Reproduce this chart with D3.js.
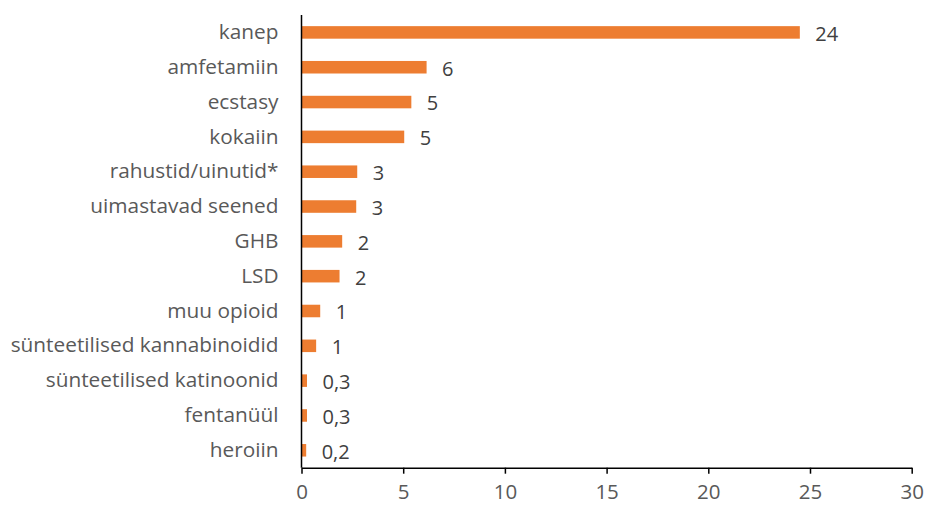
<!DOCTYPE html>
<html>
<head>
<meta charset="utf-8">
<script src="https://cdn.jsdelivr.net/npm/d3@7"></script>
<style>
  html, body { margin: 0; padding: 0; background: #fff; }
  svg { display: block; }
</style>
</head>
<body>
<svg id="chart" width="927" height="506"></svg>
<script>
const categories = ["kanep", "amfetamiin", "ecstasy", "kokaiin", "rahustid/uinutid*", "uimastavad seened", "GHB", "LSD", "muu opioid", "sünteetilised kannabinoidid", "sünteetilised katinoonid", "fentanüül", "heroiin"];
const values = [24.5, 6.15, 5.4, 5.05, 2.74, 2.69, 2.0, 1.87, 0.92, 0.72, 0.27, 0.27, 0.23];
const valueLabels = ["24", "6", "5", "5", "3", "3", "2", "2", "1", "1", "0,3", "0,3", "0,2"];
const xTicks = [0, 5, 10, 15, 20, 25, 30];

const data = categories.map((c, i) => ({ cat: c, val: values[i], label: valueLabels[i] }));

const svg = d3.select("#chart");
const margin = { left: 301.5, right: 15.3, top: 15, bottom: 38.3 };
const W = 927, H = 506;

const x = d3.scaleLinear().domain([0, 30]).range([margin.left, W - margin.right]);
const y = d3.scaleBand().domain(categories).range([margin.top, H - margin.bottom]).paddingInner(0.64).paddingOuter(0.32);

const font = "'Open Sans', 'Segoe UI', sans-serif";

// bars
svg.append("g").selectAll("rect").data(data).join("rect")
  .attr("x", x(0))
  .attr("y", d => y(d.cat))
  .attr("width", d => x(d.val) - x(0))
  .attr("height", y.bandwidth())
  .attr("fill", "#ED7D31");

// value labels
svg.append("g").selectAll("text").data(data).join("text")
  .attr("x", d => x(d.val) + 15.5)
  .attr("y", d => y(d.cat) + y.bandwidth() / 2)
  .attr("dy", "0.42em")
  .attr("font-family", font)
  .attr("font-size", 20)
  .attr("fill", "#404040")
  .text(d => d.label);

// x axis
const xAxis = svg.append("g")
  .attr("transform", `translate(0,${H - margin.bottom})`)
  .call(d3.axisBottom(x).tickValues(xTicks).tickSize(6).tickPadding(11).tickSizeOuter(0));
xAxis.select(".domain").attr("stroke", "#000").attr("stroke-width", 1.5);
xAxis.selectAll(".tick line").attr("stroke", "#000").attr("stroke-width", 1.5);
xAxis.selectAll(".tick text")
  .attr("font-family", font).attr("font-size", 20.5).attr("fill", "#595959");

// y axis
const yAxis = svg.append("g")
  .attr("transform", `translate(${margin.left},0)`)
  .call(d3.axisLeft(y).tickSize(0).tickPadding(23));
yAxis.select(".domain").remove();
yAxis.selectAll(".tick text")
  .attr("font-family", font).attr("font-size", 20.8).attr("fill", "#595959");
svg.append("line")
  .attr("x1", margin.left).attr("x2", margin.left)
  .attr("y1", margin.top).attr("y2", H - margin.bottom)
  .attr("stroke", "#000").attr("stroke-width", 1.5);
</script>
</body>
</html>
